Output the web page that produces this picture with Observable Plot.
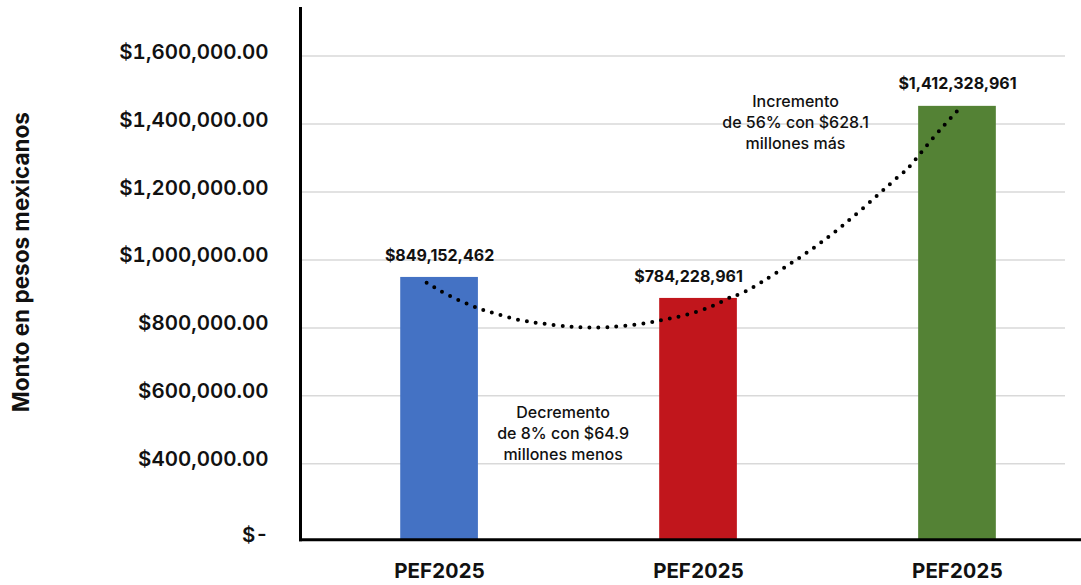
<!DOCTYPE html>
<html>
<head>
<meta charset="utf-8">
<script src="https://cdn.jsdelivr.net/npm/d3@7"></script>
<script src="https://cdn.jsdelivr.net/npm/@observablehq/plot@0.6"></script>
<style>
  html, body { margin: 0; padding: 0; background: #fff; }
  #chart { width: 1081px; height: 585px; }
</style>
</head>
<body>
<div id="chart"></div>
<script>
// ---- data ----
const categories = [0, 1, 2];
const xLabels = ["PEF2025", "PEF2025", "PEF2025"];
const barValues = [948500, 886700, 1452000];
const valueLabels = ["$849,152,462", "$784,228,961", "$1,412,328,961"];
const barColors = ["#4472C4", "#C1161C", "#548235"];
const yTicks = [0, 400000, 600000, 800000, 1000000, 1200000, 1400000, 1600000];
const yTickLabels = ["$-", "$400,000.00", "$600,000.00", "$800,000.00", "$1,000,000.00", "$1,200,000.00", "$1,400,000.00", "$1,600,000.00"];
const yTitle = "Monto en pesos mexicanos";
// dotted trend curve
const trendX = [-0.050, 0.036, 0.132, 0.197, 0.300, 0.403, 0.506, 0.576, 0.647, 0.750, 0.853, 0.956, 1.059, 1.124, 1.181, 1.317, 1.471, 1.625, 1.767, 1.819, 1.909, 2.001];
const trendY = [932900, 895500, 863100, 846300, 824800, 812200, 803400, 801300, 802200, 809200, 821900, 839600, 866100, 890500, 907300, 970300, 1050100, 1145500, 1242000, 1278300, 1361600, 1440200];
// annotations
const noteText = ["Incremento\nde 56% con $628.1\nmillones más", "Decremento\nde 8% con $64.9\nmillones menos"];
const noteX = [1.3745, 0.477];
const noteY = [1407800, 493000];

// ---- tables ----
const bars = categories.map((c, i) => ({i: c, v: barValues[i], label: valueLabels[i], color: barColors[i]}));
const trend = trendX.map((x, i) => ({x, y: trendY[i]}));
const notes = noteText.map((t, i) => ({t, x: noteX[i], y: noteY[i]}));
const barHalf = 0.15;

const chart = Plot.plot({
  width: 1081,
  height: 585,
  marginLeft: 300,
  marginRight: 1,
  marginTop: 8,
  marginBottom: 45.7,
  style: {fontFamily: "Inter, 'Noto Sans', sans-serif", background: "white", color: "#111"},
  x: {type: "linear", domain: [-0.537, 2.475], axis: null},
  y: {type: "linear", domain: [0, 400000, 1740000], range: [539.3, 463.3, 8], axis: null},
  color: {type: "identity"},
  marks: [
    Plot.ruleY(yTicks.slice(1), {stroke: "#d9d9d9", strokeWidth: 1.5, insetRight: 15}),
    Plot.rectY(bars, {x1: d => d.i - barHalf, x2: d => d.i + barHalf, y1: 0, y2: "v", fill: "color"}),
    Plot.line(trend, {x: "x", y: "y", stroke: "black", strokeWidth: 4, strokeDasharray: "0 9", strokeLinecap: "round", curve: "natural"}),
    Plot.axisY(yTicks, {anchor: "left", tickSize: 0, tickPadding: 32, tickFormat: d => yTickLabels[yTicks.indexOf(d)], fontSize: 20.5, fontWeight: 600, dy: -4, label: null}),
    Plot.axisX(categories, {anchor: "bottom", tickSize: 0, tickPadding: 24, tickFormat: d => xLabels[d], fontSize: 20.5, fontWeight: 700, label: null}),
    Plot.frame({anchor: "left", stroke: "black", strokeWidth: 3}),
    Plot.frame({anchor: "bottom", stroke: "black", strokeWidth: 3}),
    Plot.text(bars.filter(d => d.i !== 1), {x: "i", y: "v", text: "label", dy: -22, fontSize: 16, fontWeight: 700, fill: "#111"}),
    Plot.text(bars.filter(d => d.i === 1), {x: "i", y: "v", text: "label", dy: -22, dx: -10, fontSize: 16, fontWeight: 700, fill: "#111"}),
    Plot.text(notes, {x: "x", y: "y", text: "t", fontSize: 16, fontWeight: 500, lineHeight: 1.33, fill: "#111"}),
    Plot.text([yTitle], {frameAnchor: "left", textAnchor: "middle", dx: -279, dy: -12, rotate: -90, fontSize: 22.5, fontWeight: 700, fill: "#111"})
  ]
});
document.getElementById("chart").appendChild(chart);
</script>
</body>
</html>
